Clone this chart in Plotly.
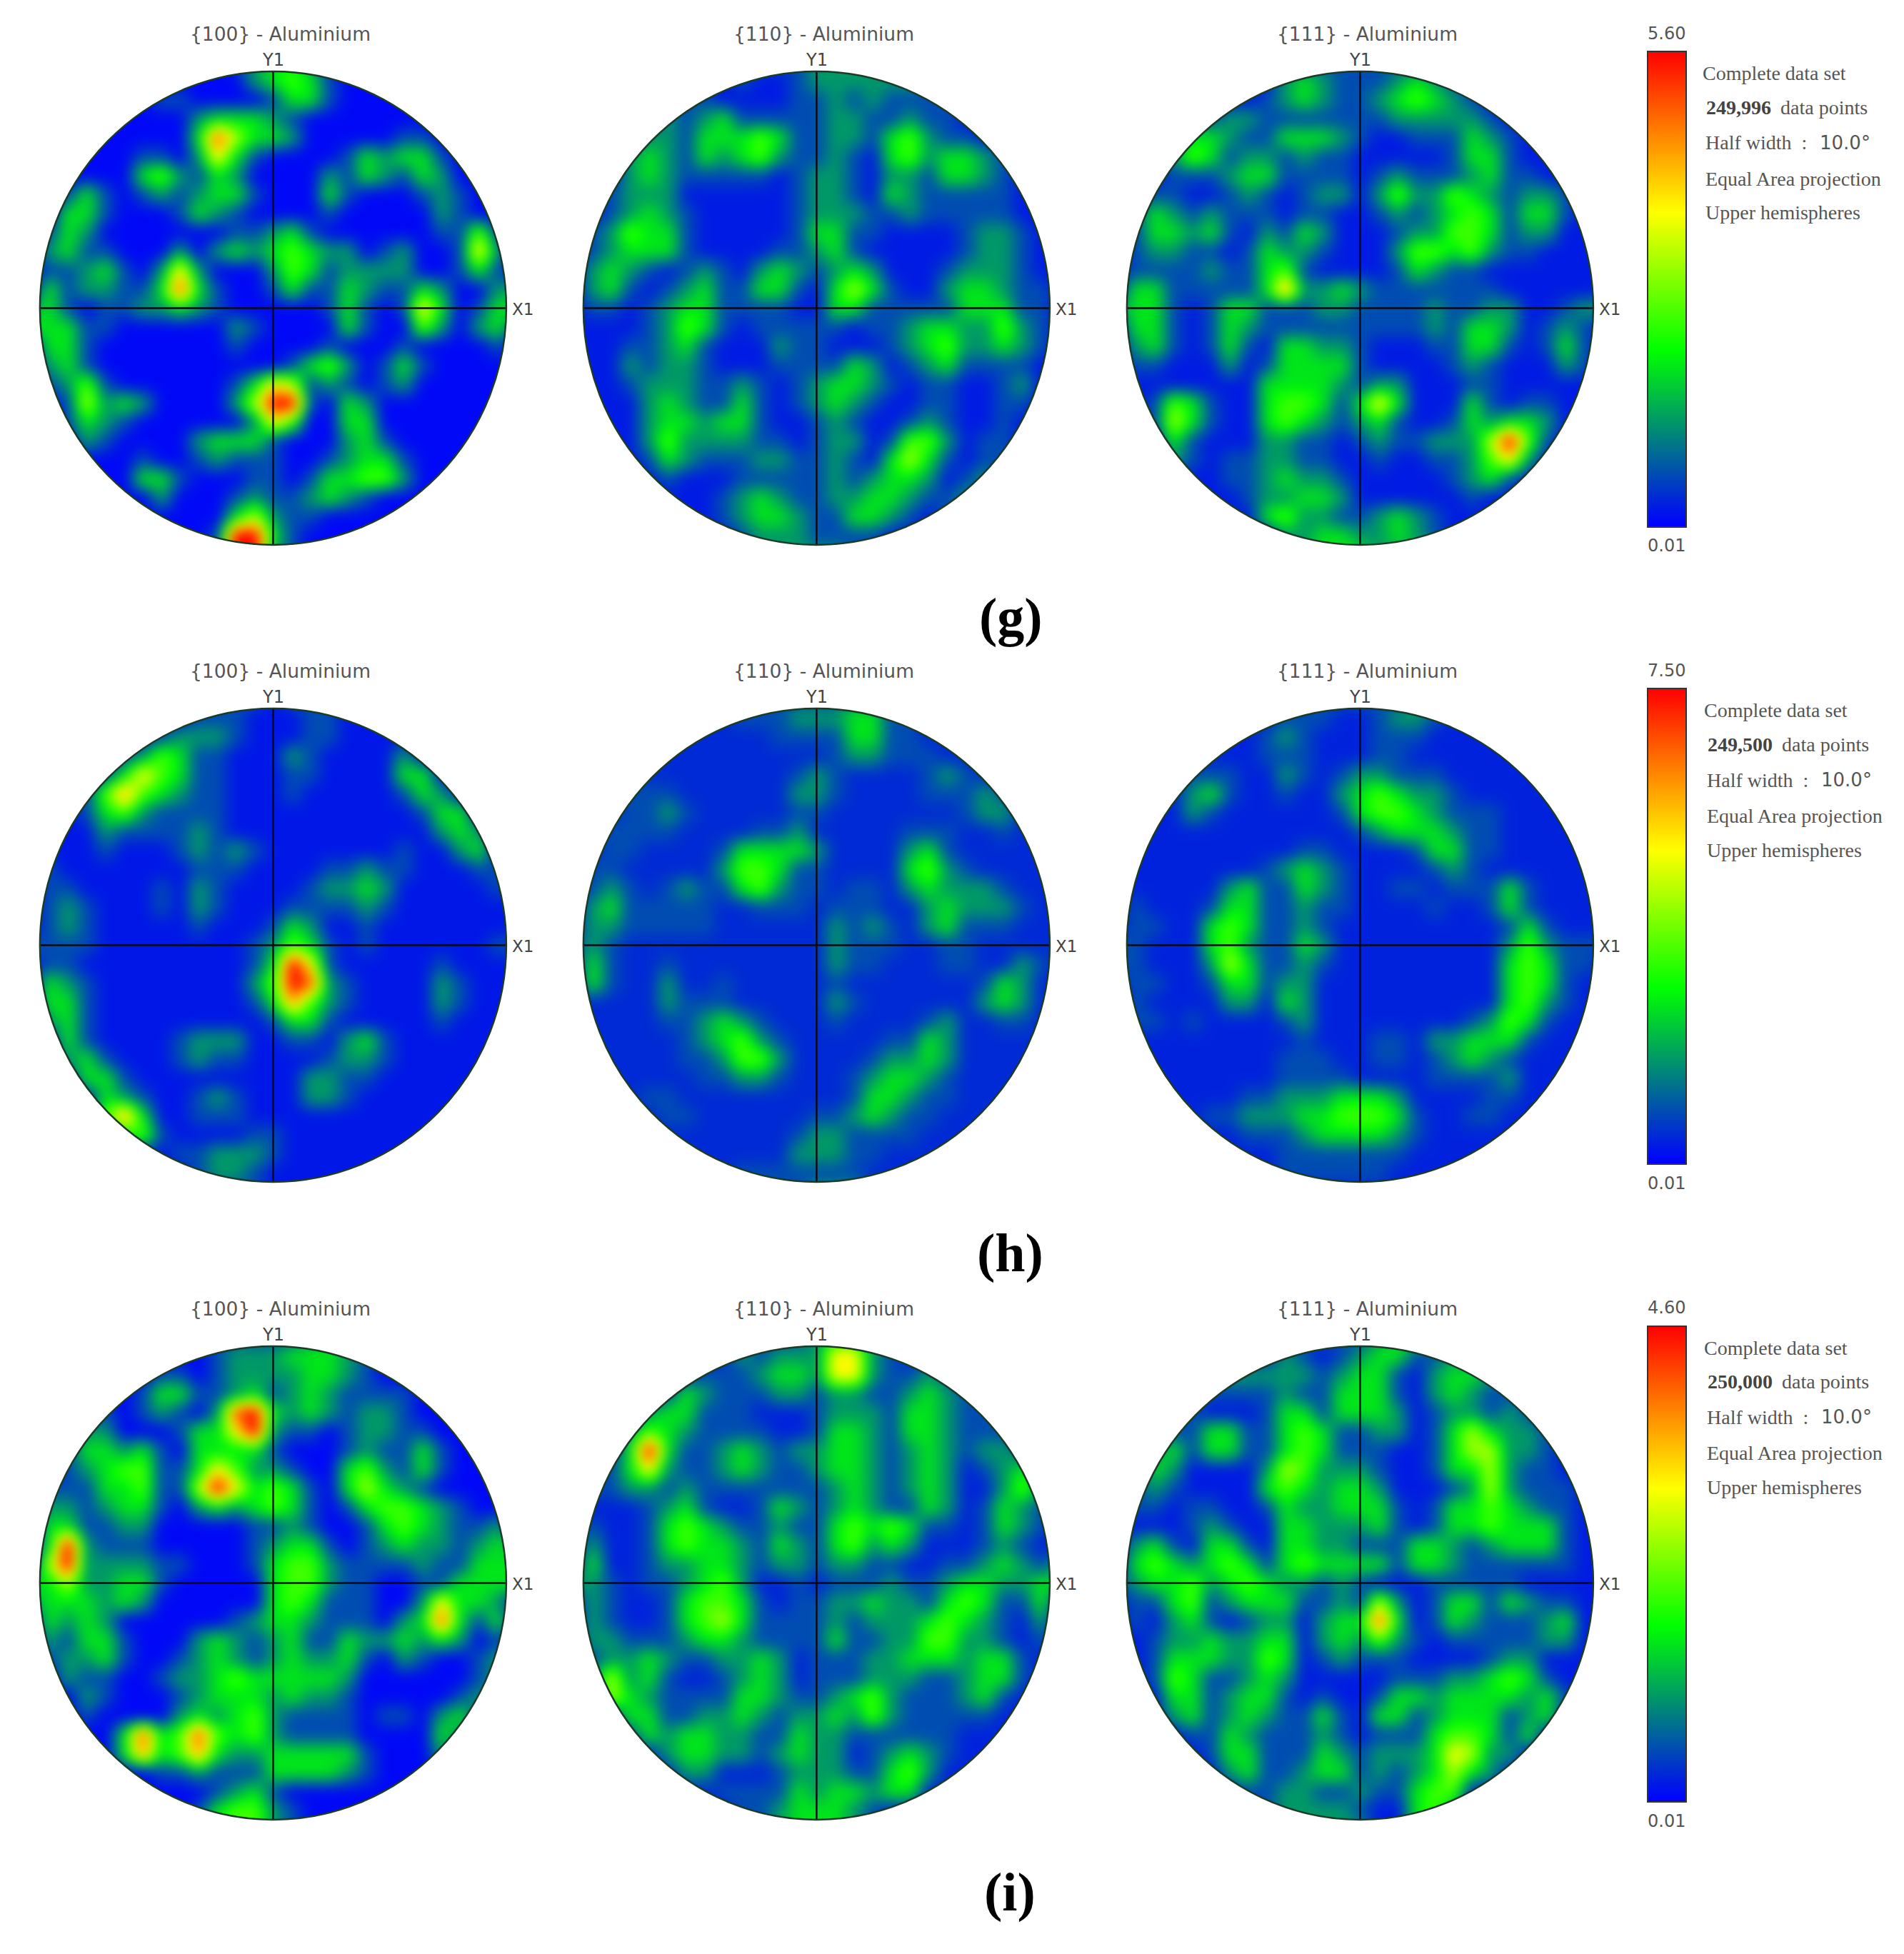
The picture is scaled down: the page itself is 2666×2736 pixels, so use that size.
import numpy as np
import plotly.graph_objects as go

# Pole-figure intensity on a 27 x 27 grid (top row first),
# digits are levels 0-9 of the colour range of each row of panels.
G_100 = """
0000000000 0123320000 0000000
0000000000 0023431000 0000000
0000000110 0001331000 0000000
0000000002 3332100000 0000000
0000000003 8533200000 1100000
0000001102 6310000132 3310000
0000003421 3200002132 1320000
0013101212 3310003100 0121000
0033100013 2100001000 0021000
0132000000 0112310000 0011410
0231100020 2323432201 2001620
0112310262 0002431222 2001310
0312211383 1001311321 1320022
2310112232 1000001310 1630133
3331100000 0210000310 0420231
0331000000 0100001000 1000010
0231000000 0000134201 3100000
0124100000 0136512101 2000000
0015232000 0259910320 0000000
0013210000 0026400330 0000000
0002100002 3331000231 0000000
0000001001 2111001233 1000000
0000003310 0011013344 2000000
0000000200 0121123210 0000000
0000000000 0352110000 0000000
0000000000 1993100000 0000000
0000000000 1992100000 0000000
"""
G_110 = """
0000000011 1112222000 0000000
0000000001 0012222221 0000000
0000001100 0011212111 1100000
0000021231 1111221121 1000000
0000221333 4311221342 1100000
0002321323 4211210342 3321000
0002321111 1012210221 3321000
0012220000 0012210321 1111000
0012321000 0012221121 1111000
0124331000 0013311000 0122100
0123331000 0112310000 0122100
0232101210 2321232000 1222100
0231012311 3310353100 2332110
0110123311 1100331111 1333110
0000124310 1111101123 3224210
0001123100 0211000123 4223210
0002122100 0111132012 3111100
0001222112 1012332101 1001200
0000232113 1012321001 1001100
0000233233 1001210012 1001000
0000242222 1101220144 2011000
0000132111 2211210353 1011000
0000010001 1111212332 0120000
0000000012 3211223321 1200000
0000000012 3321133210 1000000
0000000001 2221111000 0000000
0000000001 2222211000 0000000
"""
G_111 = """
0000000001 1111111222 0000000
0000000002 3211123210 0000000
0000000012 3211234321 0000000
0000112211 1111122222 1000000
0001332113 3321001113 2100000
0002431221 2110000013 3100000
0001112331 1110121112 3110000
0011001210 1220242243 2122100
0132121110 1100121234 3133100
0133231021 3200012244 3122000
0122110132 2100024434 2110000
0111121134 1000013211 0000000
0331111137 2232111111 1000000
2331013311 1221111211 2200122
0331013211 1111111213 3201210
0231013103 3221000113 3101310
0110002013 3331000012 1000210
0000000033 3321220001 1000000
0014310034 4313630003 1011000
0015310034 3212310013 2332000
0003100022 1101211222 5941000
0002101122 1100100112 4620000
0000001123 2210000012 3100000
0000000122 3320000001 0000000
0000000034 2211232100 0000000
0000000002 2332232100 0000000
0000000001 2333223210 0000000
"""
H_100 = """
0000000000 1110111000 0000000
0000000001 1100011000 0000000
0000000122 2100011000 0000000
0000012431 1000210000 2000000
0000136431 1000110000 3300000
0001474321 1000100000 1320000
0001342111 1000000000 0133000
0000211112 1000000000 0023200
0000100012 1210000000 1002300
0100000001 1100001121 1000110
0110000102 1000012232 0000010
0121000102 1000111121 0000000
0121000001 0001320010 0000000
1111000000 0012431010 0000011
0110000000 0013961000 0010000
0321000000 0024982100 0021000
0331000000 0013742100 0021000
0231000000 0001331000 0010000
0031000012 2200110231 0000000
0023100012 1100001221 0000000
0003310000 0000022110 0000000
0000321001 2100022100 0000000
0000473001 1100000000 0000000
0000034100 0011000000 0000000
0000000011 2221000000 0000000
0000000001 2210000000 0000000
0000000001 1110000000 0000000
"""
H_110 = """
0000000001 1111122210 0000000
0000000001 1122233110 0000000
0000000000 0111133110 0000000
0000100000 0000122111 0000000
0001000000 0012100001 2100000
0001110000 0022100001 1121000
0001121000 0011000000 0122000
0011110000 1120000011 1001000
0011000013 3332000023 1000000
0110000024 4311000034 2100000
0121012113 4211011023 2221000
0231111100 1110111002 3222100
0221111100 0000212102 3111000
1210000000 0000211100 1100000
0310010000 0000211000 1100210
0310020010 0000100000 0013200
0000021110 0000210000 0023200
0000011232 1000100001 2001100
0000001234 2100000113 2000000
0000001124 4200001223 2000000
0000000112 2100012332 1000000
0000110000 0000013321 1000000
0000011000 0001123211 0000000
0000000000 0012211110 0000000
0000000000 0022211000 0000000
0000000001 1111110000 0000000
0000000001 1112221000 0000000
"""
H_111 = """
0000000001 1111112211 0000000
0000000001 1100122100 0000000
0000000012 1000111000 0000000
0000000011 1000110000 0000000
0000111002 1012211100 0000000
0000231001 0023432210 0000000
0000210000 0013443211 1000000
0000000000 0001233321 1000000
0000000000 1100001331 1000000
0000000012 3210000121 0000000
0000002311 3210011011 1310000
0100013311 2110000100 1310000
0110034311 2100000000 0131000
1100034211 3200000000 0242111
1100025311 2100000000 0343110
0110013312 2000000000 0343100
0100002203 2000000000 0342100
0110100001 2000000001 2431000
0000000000 1000110223 3310000
0000000001 1100110123 2100000
0000000001 1110000111 1200000
0000000112 2233320000 1100000
0000011222 3344431001 1000000
0000000111 2333321000 0000000
0000000001 1111110000 0000000
0000000001 1111100000 0000000
0000000000 0000000000 0000000
"""
I_100 = """
0000000001 1111123321 0000000
0000000000 1222333210 0000000
0000000110 1222233210 0000000
0000001331 1231232111 1000000
0000101210 2893232122 1000000
0002200013 3692110122 1100000
0013323103 3331000121 1310000
0012344113 6422100342 1310000
0111334115 9634310353 2100000
0221233102 3234310134 4321000
0331122000 0011210013 4321120
0392111000 0012331012 3221232
0592222110 0013442111 1211333
3352233100 0003442110 0113333
2333232000 0003431110 0263320
0323200000 0123321110 2383130
0213310002 3212311322 3232010
0122310012 3212322310 2100120
0021100122 3433333200 0000120
0002100012 3332322100 0001210
0001000023 2342111101 1023100
0000038348 4342111100 0032000
0000037347 3223333310 0020000
0000000112 1113333210 0000000
0000000000 1231000000 0000000
0000000001 3442100000 0000000
0000000001 3442100000 0000000
"""
I_110 = """
0000000001 1112332111 0000000
0000000002 1222662100 0000000
0000000111 2332662112 1000000
0000013211 1221221123 2110000
0000233111 0001222133 2111000
0002432111 1001332133 2111000
0003931123 2122332123 2122100
0013621123 2112332123 2012320
0112212111 1111232123 2002420
0000123100 1321232113 2013210
0100134321 1211343431 1013210
0200134332 1321342320 0012100
0300122332 1221221100 1123212
2210112342 0010111211 2332233
0210013443 1011223221 3431130
0210013453 1111212223 4321020
0221112332 1111311224 4221010
0122321122 3201112233 3233100
0252310012 3201112221 1233100
0053211113 3211234211 1231000
0003311223 2122324211 1110000
0001323322 1132211111 1000000
0000023322 1232201232 1000000
0000002200 0122211342 0000000
0000000011 1132332330 0000000
0000000001 1233321000 0000000
0000000001 1233321000 0000000
"""
I_111 = """
0000000001 1111233221 0000000
0000000002 1012331121 0000000
0000002222 2123310233 2000000
0000111112 1133310232 1100000
0001100013 3133320122 1210000
0001133113 4311220135 3221000
0023133113 4311100135 5221000
0032000025 4222100133 5211000
0121000034 3233200012 5211100
0110110013 2233310133 4321100
0000121003 3222310133 4333100
0231033103 3221113321 2333100
0343234313 4333313321 1111100
1233423432 2121000111 1100000
0113412333 1121520133 1321100
0102310122 0233830132 1112300
0012232233 0232421011 1112200
0013332243 0121110000 1220000
0014311232 0000011122 3431000
0003312331 0100133233 3323100
0002312321 1310331233 3123000
0000113211 1210111344 3130000
0000013311 1321222365 2200000
0000002311 2331212353 2000000
0000000112 2112113440 0000000
0000000012 2221003420 0000000
0000000012 2222003420 0000000
"""

panel_rows = [[G_100, G_110, G_111], [H_100, H_110, H_111], [I_100, I_110, I_111]]
panel_floor = [[0.1, 0.35, 0.35], [0.3, 0.55, 0.45], [0.1, 0.45, 0.35]]
colorbar_max = [5.60, 7.50, 4.60]
colorbar_min = 0.01
pole_titles = ["{100} - Aluminium", "{110} - Aluminium", "{111} - Aluminium"]
data_points = ["249,996", "249,500", "250,000"]
row_labels = ["g", "h", "i"]
info_lines = ["Complete data set", "Half width  :", "Equal Area projection", "Upper hemispheres"]

W, H = 2666, 2736
PAGE = 8                      # the browser's default body margin
FW, FH = W - 2 * PAGE, H - 2 * PAGE
CX = [382.4, 1143.4, 1904.4]
CY = [431.4, 1323.4, 2216.4]
RX, RY = 326.5, 331.5         # the reference's circles are slightly taller than wide
EXT = 1.04                    # reach of the data grid
FRAME = 1.145                 # reach of each axis (mask hides the rest)
GRID = np.round(np.linspace(-EXT, EXT, 27), 3)
SCALE = [[0, "#0000ff"], [0.37, "#00ff00"], [0.66, "#ffff00"], [1, "#ff0000"]]
GREY = "#555555"


def fx(px):
    return (px - PAGE) / FW


def fy(py):
    return 1 - (py - PAGE) / FH


def parse(block, zmax, floor):
    rows = []
    for line in block.strip().splitlines():
        s = line.replace(" ", "")
        s = s.ljust(27, s[-1])[:27]
        rows.append([colorbar_min + max(int(c), floor) / 9 * (zmax - colorbar_min) for c in s])
    return rows


fig = go.Figure()
shapes, notes = [], []
theta = np.linspace(0, -2 * np.pi, 361)
mask = f"M{-FRAME},{-FRAME} L{FRAME},{-FRAME} L{FRAME},{FRAME} L{-FRAME},{FRAME} Z M" + " L".join(
    f"{np.cos(t):.4f},{np.sin(t):.4f}" for t in theta) + " Z"


def note(px, py, text, size, color=GREY, family="DejaVu Sans", anchor="center"):
    notes.append(dict(x=fx(px), y=fy(py), xref="paper", yref="paper", text=text, showarrow=False,
                      xanchor=anchor, yanchor="middle", borderpad=0,
                      font=dict(family=family, size=size, color=color)))


layout_axes = {}
for r in range(3):
    for c in range(3):
        n = r * 3 + c + 1
        hx, hy = RX * FRAME, RY * FRAME
        fig.add_trace(go.Heatmap(x=GRID, y=GRID[::-1], z=parse(panel_rows[r][c], colorbar_max[r], panel_floor[r][c]),
                                 zsmooth="best", coloraxis=f"coloraxis{r + 1 if r else ''}",
                                 xaxis=f"x{n}", yaxis=f"y{n}", hoverinfo="skip"))
        ax = dict(range=[-FRAME, FRAME], visible=False, fixedrange=True)
        layout_axes[f"xaxis{n}"] = dict(ax, domain=[fx(CX[c] - hx), fx(CX[c] + hx)], anchor=f"y{n}")
        layout_axes[f"yaxis{n}"] = dict(ax, domain=[fy(CY[r] + hy), fy(CY[r] - hy)], anchor=f"x{n}")
        xr, yr = f"x{n}", f"y{n}"
        shapes.append(dict(type="path", path=mask, xref=xr, yref=yr, fillcolor="white", line=dict(width=0)))
        shapes.append(dict(type="line", x0=-1, x1=1, y0=0, y1=0, xref=xr, yref=yr, line=dict(color="#0a0a14", width=2.5)))
        shapes.append(dict(type="line", x0=0, x1=0, y0=-1, y1=1, xref=xr, yref=yr, line=dict(color="#0a0a14", width=2.5)))
        shapes.append(dict(type="circle", x0=-1, x1=1, y0=-1, y1=1, xref=xr, yref=yr, line=dict(color="#1c3a28", width=2.5)))
        note(CX[c] + 10, CY[r] - 384, pole_titles[c], 26.5)
        note(CX[c], CY[r] - 347, "Y1", 24, "#444444")
        note(CX[c] + 350, CY[r] + 2, "X1", 23, "#444444")

BAR_X = 2307
coloraxes = {}
for r in range(3):
    top, bottom = 71.5 + 892.5 * r, 737.5 + 892.5 * r
    key = f"coloraxis{r + 1 if r else ''}"
    coloraxes[key] = dict(
        cmin=colorbar_min, cmax=colorbar_max[r], colorscale=SCALE,
        colorbar=dict(x=fx(BAR_X), xanchor="left", y=fy((top + bottom) / 2), yanchor="middle",
                      len=bottom - top, lenmode="pixels", thickness=54, thicknessmode="pixels",
                      xpad=0, ypad=0, ticks="", showticklabels=False, outlinecolor="#333333",
                      outlinewidth=2, borderwidth=0))
    note(2333, 47 + 892 * r, f"{colorbar_max[r]:.2f}", 24)
    note(2333, 764 + 893 * r, f"{colorbar_min:.2f}", 24)
    dx = 2 if r else 0
    off = 892 * r
    serif = "Liberation Serif"
    note(2383 + dx, 103 + off, info_lines[0], 28, GREY, serif, "left")
    note(2388 + dx, 150 + off, f"<b>{data_points[r]}</b>", 28, "#444444", serif, "left")
    note(2492 + dx, 150 + off, "data points", 28, GREY, serif, "left")
    note(2387 + dx, 200 + off, info_lines[1], 28, GREY, serif, "left")
    note(2547 + dx, 200 + off, "10.0°", 26, GREY, "DejaVu Sans", "left")
    note(2387 + dx, 250 + off, info_lines[2], 28, GREY, serif, "left")
    note(2387 + dx, 298 + off, info_lines[3], 28, GREY, serif, "left")

for px, py, lab in zip([1415, 1414, 1414], [864, 1754, 2649], row_labels):
    note(px, py, f"<b>({lab})</b>", 76, "#000000", "Liberation Serif")

fig.update_layout(width=FW, height=FH, margin=dict(l=0, r=0, t=0, b=0, pad=0, autoexpand=False),
                  paper_bgcolor="white", plot_bgcolor="white", showlegend=False,
                  shapes=shapes, annotations=notes, **layout_axes, **coloraxes)
# The reference is a soft raster: soften only the painted heatmap images.
soften = "document.querySelectorAll('.hm image').forEach(function(i){i.style.filter='blur(8px)';});"
fig.write_html("out.html", config=dict(displayModeBar=False), post_script=soften)
